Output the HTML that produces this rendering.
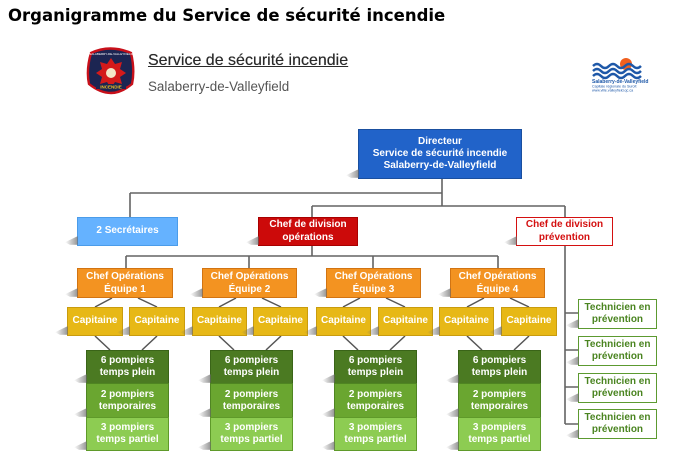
<!DOCTYPE html>
<html><head><meta charset="utf-8">
<style>
html,body{margin:0;padding:0;background:#fff;}
body{width:676px;height:463px;position:relative;overflow:hidden;font-family:"Liberation Sans",Arial,sans-serif;}
.t{position:absolute;left:8px;top:6px;font-family:"DejaVu Sans",Verdana,sans-serif;font-weight:bold;font-size:16.5px;color:#000;white-space:nowrap;}
.h1{position:absolute;left:148px;top:52px;font-size:16px;color:#2a2a2a;text-decoration:underline;white-space:nowrap;text-shadow:0 0 0.4px #333;}
.h2{position:absolute;left:148px;top:79px;font-size:13.4px;color:#555;white-space:nowrap;}
.b{position:absolute;box-sizing:border-box;display:flex;align-items:center;justify-content:center;text-align:center;font-weight:bold;font-size:10px;line-height:12.5px;color:#fff;}
.b::before{content:"";position:absolute;left:-13px;bottom:0px;width:13px;height:9px;background:linear-gradient(to right,rgba(150,150,150,0),rgba(110,110,110,0.75));clip-path:polygon(0 70%,100% 0,100% 100%,40% 100%);filter:blur(0.6px);}
.dir{background:#2163c9;border:1.5px solid #1a4f9f;line-height:12px;}
.sec{background:#65b2ff;border:1.5px solid #4b9ce9;}
.ops{background:#cc0a0a;border:1.5px solid #a80000;line-height:12.5px;}
.prev{background:#fff;border:1.5px solid #d41010;color:#d41010;}
.co{background:#f39321;border:1.5px solid #d27412;line-height:13px;}
.cap{background:#e7b816;border:1.5px solid #c99c0e;}
.g1{background:#4b7a22;border:1.5px solid #3a6418;line-height:12px;}
.g2{background:#6aa630;border:1.5px solid #4f8522;line-height:12px;}
.g3{background:#8dcc52;border:1.5px solid #5f9a2a;line-height:12px;}
.tec{background:#fff;border:1.5px solid #5c9a30;color:#4a8420;line-height:12px;}
svg{position:absolute;left:0;top:0;}
</style></head><body>
<div class="t">Organigramme du Service de sécurité incendie</div>

<svg width="676" height="463" viewBox="0 0 676 463">
  <!-- badge -->
  <path d="M91 53 Q110 44 131 53 Q135 70 132 84 Q121 93 111 93 Q100 93 89 84 Q86 70 91 53 Z" fill="#1c2552" stroke="#c8101a" stroke-width="2.4"/>
  <path d="M111 58 l4 6 l7 -2 l-2 7 l6 4 l-6 4 l2 7 l-7 -2 l-4 6 l-4 -6 l-7 2 l2 -7 l-6 -4 l6 -4 l-2 -7 l7 2 Z" fill="#d41a1a"/>
  <circle cx="111" cy="73" r="5" fill="#f4e8c8"/>
  <rect x="96" y="84" width="30" height="5" fill="#1c2552"/>
  <text x="111" y="88.5" font-family="Liberation Sans" font-size="4.5" font-weight="bold" fill="#f0c020" text-anchor="middle">INCENDIE</text>
  <text x="111" y="55" font-family="Liberation Sans" font-size="3" fill="#fff" text-anchor="middle">SALABERRY-DE-VALLEYFIELD</text>
  <!-- right logo -->
  <circle cx="626" cy="64" r="6" fill="#f06020"/>
  <g fill="none" stroke="#1e58a8" stroke-width="2.4">
    <path d="M593 66 q4 -4 8 0 q4 4 8 0 q4 -4 8 0 q4 4 8 0 q4 -4 8 0 q4 4 8 0"/>
    <path d="M593 71 q4 -4 8 0 q4 4 8 0 q4 -4 8 0 q4 4 8 0 q4 -4 8 0 q4 4 8 0"/>
    <path d="M593 76 q4 -4 8 0 q4 4 8 0 q4 -4 8 0 q4 4 8 0 q4 -4 8 0 q4 4 8 0"/>
  </g>
  <text x="592" y="83" font-family="Liberation Sans" font-size="5" font-weight="bold" fill="#1e58a8">Salaberry-de-Valleyfield</text>
  <text x="592" y="87.5" font-family="Liberation Sans" font-size="3.6" fill="#1e58a8">Capitale régionale du Suroît</text>
  <text x="592" y="91.5" font-family="Liberation Sans" font-size="3.6" fill="#1e58a8">www.ville.valleyfield.qc.ca</text>

  <g fill="none" stroke="#636363" stroke-width="1.6">
    <path d="M442 179 V206 M130 193 H442 M130 193 V217 M312 206 H565 M312 206 V217 M565 206 V217"/>
    <path d="M312 246 V256 M126 256 H498 M126 256 V268 M249 256 V268 M373 256 V268 M498 256 V268"/>
    <path d="M565 246 V424 M565 313 H578 M565 350 H578 M565 387 H578 M565 424 H578"/>
  </g>
  <g fill="none" stroke="#555" stroke-width="1.5">
    <path d="M112 298 L95 307 M138 298 L157 307 M95 336 L110 350 M157 336 L142 350"/>
    <path d="M236 298 L219 307 M262 298 L281 307 M219 336 L234 350 M281 336 L266 350"/>
    <path d="M360 298 L343 307 M386 298 L405 307 M343 336 L358 350 M405 336 L390 350"/>
    <path d="M484 298 L467 307 M510 298 L529 307 M467 336 L482 350 M529 336 L514 350"/>
  </g>
</svg>

<div class="h1">Service de sécurité incendie</div>
<div class="h2">Salaberry-de-Valleyfield</div>

<div class="b dir" style="left:358px;top:129px;width:164px;height:50px;">Directeur<br>Service de sécurité incendie<br>Salaberry-de-Valleyfield</div>
<div class="b sec" style="left:77px;top:217px;width:101px;height:29px;">2 Secrétaires</div>
<div class="b ops" style="left:258px;top:217px;width:100px;height:29px;">Chef de division<br>opérations</div>
<div class="b prev" style="left:516px;top:217px;width:97px;height:29px;">Chef de division<br>prévention</div>

<div class="b co" style="left:77px;top:268px;width:96px;height:30px;">Chef Opérations<br>Équipe 1</div>
<div class="b co" style="left:202px;top:268px;width:95px;height:30px;">Chef Opérations<br>Équipe 2</div>
<div class="b co" style="left:326px;top:268px;width:95px;height:30px;">Chef Opérations<br>Équipe 3</div>
<div class="b co" style="left:450px;top:268px;width:95px;height:30px;">Chef Opérations<br>Équipe 4</div>

<div class="b cap" style="left:67px;top:307px;width:56px;height:29px;">Capitaine</div>
<div class="b cap" style="left:129px;top:307px;width:56px;height:29px;">Capitaine</div>
<div class="b cap" style="left:192px;top:307px;width:55px;height:29px;">Capitaine</div>
<div class="b cap" style="left:253px;top:307px;width:55px;height:29px;">Capitaine</div>
<div class="b cap" style="left:316px;top:307px;width:55px;height:29px;">Capitaine</div>
<div class="b cap" style="left:378px;top:307px;width:55px;height:29px;">Capitaine</div>
<div class="b cap" style="left:439px;top:307px;width:55px;height:29px;">Capitaine</div>
<div class="b cap" style="left:501px;top:307px;width:56px;height:29px;">Capitaine</div>

<div class="b g1" style="left:86px;top:350px;width:83px;height:34px;">6 pompiers<br>temps plein</div>
<div class="b g2" style="left:86px;top:383px;width:83px;height:35px;">2 pompiers<br>temporaires</div>
<div class="b g3" style="left:86px;top:417px;width:83px;height:34px;">3 pompiers<br>temps partiel</div>

<div class="b g1" style="left:210px;top:350px;width:83px;height:34px;">6 pompiers<br>temps plein</div>
<div class="b g2" style="left:210px;top:383px;width:83px;height:35px;">2 pompiers<br>temporaires</div>
<div class="b g3" style="left:210px;top:417px;width:83px;height:34px;">3 pompiers<br>temps partiel</div>

<div class="b g1" style="left:334px;top:350px;width:83px;height:34px;">6 pompiers<br>temps plein</div>
<div class="b g2" style="left:334px;top:383px;width:83px;height:35px;">2 pompiers<br>temporaires</div>
<div class="b g3" style="left:334px;top:417px;width:83px;height:34px;">3 pompiers<br>temps partiel</div>

<div class="b g1" style="left:458px;top:350px;width:83px;height:34px;">6 pompiers<br>temps plein</div>
<div class="b g2" style="left:458px;top:383px;width:83px;height:35px;">2 pompiers<br>temporaires</div>
<div class="b g3" style="left:458px;top:417px;width:83px;height:34px;">3 pompiers<br>temps partiel</div>

<div class="b tec" style="left:578px;top:299px;width:79px;height:30px;">Technicien en<br>prévention</div>
<div class="b tec" style="left:578px;top:336px;width:79px;height:30px;">Technicien en<br>prévention</div>
<div class="b tec" style="left:578px;top:373px;width:79px;height:30px;">Technicien en<br>prévention</div>
<div class="b tec" style="left:578px;top:409px;width:79px;height:30px;">Technicien en<br>prévention</div>
</body></html>
